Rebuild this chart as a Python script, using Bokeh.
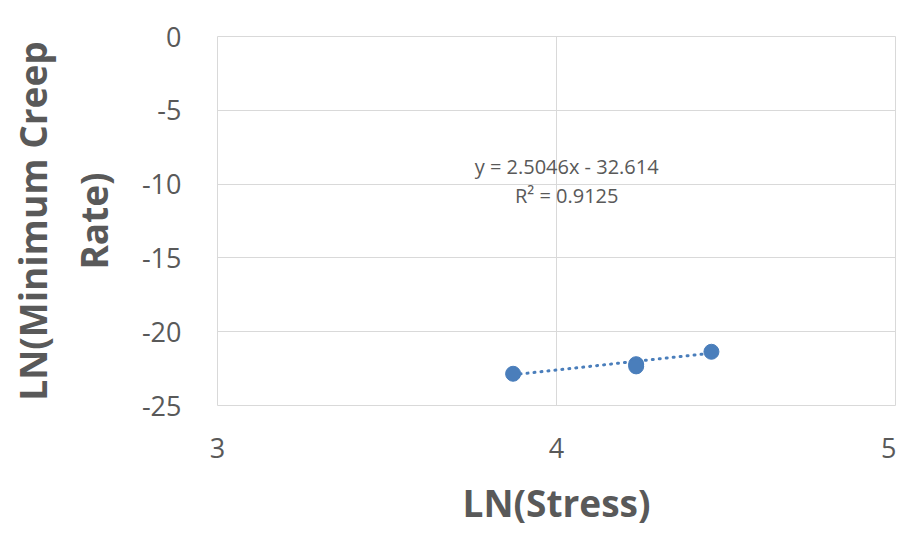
import numpy as np
from bokeh.plotting import figure
from bokeh.models import Label, FixedTicker, PrintfTickFormatter
from bokeh.embed import file_html
from bokeh.resources import INLINE

# Data
ln_stress = [3.872, 4.235, 4.235, 4.457]
ln_min_creep_rate = [-22.85, -22.2, -22.35, -21.36]

# Trendline as given on the chart
slope = 2.5046
intercept = -32.614
r_squared = 0.9125

x_ticks = [3, 4, 5]
y_ticks = [0, -5, -10, -15, -20, -25]

GRAY = "#595959"
BLUE = "#4a7ebb"
FONT = "Open Sans"

p = figure(width=896, height=530, output_backend="svg", toolbar_location=None,
           x_range=(3, 5), y_range=(-25, 0),
           min_border_left=217, min_border_right=1, min_border_top=36, min_border_bottom=125)
p.background_fill_color = "white"
p.border_fill_color = "white"
p.outline_line_color = "#d9d9d9"
p.outline_line_width = 1

for ax in (p.xaxis[0], p.yaxis[0]):
    ax.axis_line_color = None
    ax.major_tick_line_color = None
    ax.minor_tick_line_color = None
    ax.major_label_text_font = FONT
    ax.major_label_text_font_size = "27px"
    ax.major_label_text_color = GRAY
    ax.axis_label_text_font = FONT
    ax.axis_label_text_font_size = "37px"
    ax.axis_label_text_font_style = "bold"
    ax.axis_label_text_color = GRAY
    ax.formatter = PrintfTickFormatter(format="%d")

p.xaxis.ticker = FixedTicker(ticks=x_ticks)
p.yaxis.ticker = FixedTicker(ticks=y_ticks)
p.xaxis.major_label_standoff = 26
p.yaxis.major_label_standoff = 30
p.xaxis.axis_label = "LN(Stress)"
p.yaxis.axis_label = "LN(Minimum Creep\nRate)"
p.xaxis.axis_label_standoff = 16
p.yaxis.axis_label_standoff = 20

p.xgrid.ticker = FixedTicker(ticks=x_ticks)
p.ygrid.ticker = FixedTicker(ticks=y_ticks)
p.xgrid.grid_line_color = "#d9d9d9"
p.ygrid.grid_line_color = "#d9d9d9"

# Trendline
xs = np.array([min(ln_stress), max(ln_stress)])
ys = slope * xs + intercept
p.line(xs, ys, line_color=BLUE, line_width=3, line_dash="1 6", line_cap="round")

p.scatter(ln_stress, ln_min_creep_rate, size=15, fill_color=BLUE, line_color=BLUE)

eq = f"y = {slope}x - {abs(intercept)}"
r2 = f"R² = {r_squared}"
p.add_layout(Label(x=4.03, y=-8.8, text=eq, text_align="center", text_baseline="middle",
                   text_font=FONT, text_font_size="20px", text_color=GRAY))
p.add_layout(Label(x=4.03, y=-10.8, text=r2, text_align="center", text_baseline="middle",
                   text_font=FONT, text_font_size="20px", text_color=GRAY))

open("out.html", "w").write(file_html(p, INLINE))
